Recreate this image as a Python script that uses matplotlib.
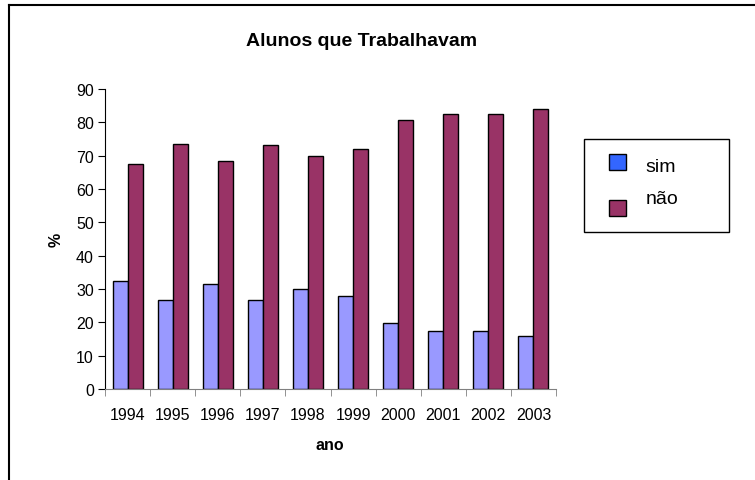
import matplotlib.pyplot as plt
import numpy as np
from matplotlib.patches import Rectangle
from matplotlib.lines import Line2D

plt.rcParams['font.family'] = ['Liberation Sans', 'DejaVu Sans']

anos = ['1994', '1995', '1996', '1997', '1998', '1999', '2000', '2001', '2002', '2003']
sim = [32.3, 26.8, 31.5, 26.8, 30.0, 27.8, 19.7, 17.3, 17.3, 15.9]
nao = [67.5, 73.5, 68.3, 73.1, 69.8, 72.1, 80.6, 82.5, 82.5, 83.9]

W, H = 755, 481
fig = plt.figure(figsize=(W / 100, H / 100), dpi=100)
# axes box in pixels: left 105, right 556, top 90, bottom 390
ax = fig.add_axes([105 / W, 1 - 390 / H, (556 - 105) / W, (390 - 90) / H])

x = np.arange(len(anos))
bw = 1 / 3
ax.bar(x - bw / 2, sim, bw, color='#9999FF', edgecolor='black', linewidth=1)
ax.bar(x + bw / 2, nao, bw, color='#993366', edgecolor='black', linewidth=1)

ax.set_xlim(-0.5, len(anos) - 0.5)
ax.set_ylim(0, 90)
ax.set_yticks(range(0, 91, 10))
ax.set_xticks(x)
ax.set_xticklabels(anos, fontsize=11.5)
ax.set_xticks(np.arange(-0.5, len(anos), 1), minor=True)
ax.tick_params(axis='x', which='major', length=0, pad=13)
ax.tick_params(axis='x', which='minor', length=5, direction='out', color='#808080')
ax.tick_params(axis='y', length=5, direction='out', labelsize=11.5, pad=3)

for s in ['top', 'right']:
    ax.spines[s].set_visible(False)
ax.spines['bottom'].set_color('#808080')
ax.spines['left'].set_color('black')

fig.text(362 / W, 1 - 42 / H, 'Alunos que Trabalhavam', ha='center', va='center',
         fontsize=14, fontweight='bold')
fig.text(56 / W, 1 - 240 / H, '%', ha='center', va='center', rotation=90,
         fontsize=11.5, fontweight='bold')
fig.text(330 / W, 1 - 446 / H, 'ano', ha='center', va='center',
         fontsize=11.5, fontweight='bold')

# legend box
fig.patches.append(Rectangle((584 / W, 1 - 233 / H), (729 - 584) / W, (233 - 140) / H,
                             transform=fig.transFigure, facecolor='white',
                             edgecolor='black', linewidth=1))
fig.patches.append(Rectangle((609 / W, 1 - 171 / H), 17 / W, 16 / H,
                             transform=fig.transFigure, facecolor='#3366FF',
                             edgecolor='black', linewidth=1))
fig.patches.append(Rectangle((609 / W, 1 - 217 / H), 17 / W, 16 / H,
                             transform=fig.transFigure, facecolor='#993366',
                             edgecolor='black', linewidth=1))
fig.text(645 / W, 1 - 168 / H, 'sim', ha='left', va='center', fontsize=14)
fig.text(646 / W, 1 - 200 / H, 'não', ha='left', va='center', fontsize=14)

# outer frame (top and left only)
fig.lines.append(Line2D([9 / W, 1], [1 - 5.5 / H, 1 - 5.5 / H], transform=fig.transFigure,
                        color='black', linewidth=1.5))
fig.lines.append(Line2D([9 / W, 9 / W], [1 - 5.5 / H, 0], transform=fig.transFigure,
                        color='black', linewidth=1.5))

fig.savefig('out.png', dpi=100)
